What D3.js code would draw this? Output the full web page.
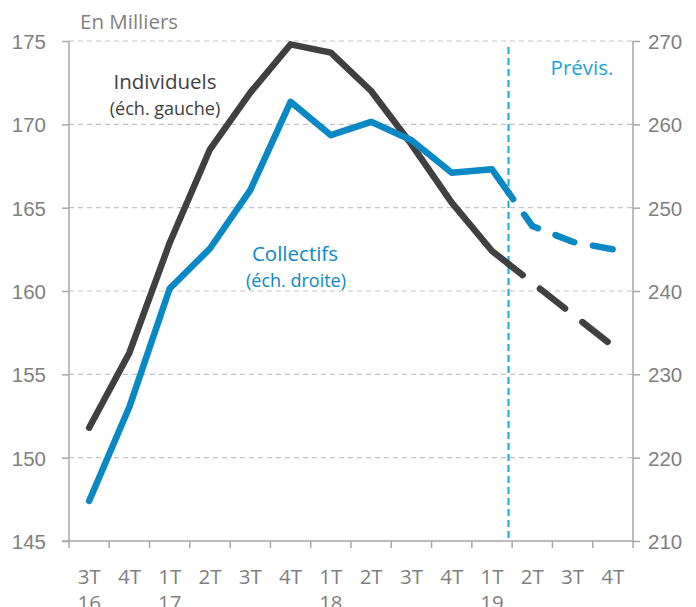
<!DOCTYPE html>
<html>
<head>
<meta charset="utf-8">
<script src="https://cdn.jsdelivr.net/npm/d3@7"></script>
<style>
  html, body { margin: 0; padding: 0; background: #fff; }
  svg { display: block; font-family: "Open Sans", "Noto Sans", sans-serif; }
</style>
</head>
<body>
<svg id="chart" width="696" height="607"></svg>
<script>
// Quarters (first line) and years (second line) of the x axis
const quarters = ["3T", "4T", "1T", "2T", "3T", "4T", "1T", "2T", "3T", "4T", "1T", "2T", "3T", "4T"];
const years    = ["16", "",   "17", "",   "",   "",   "18", "",   "",   "",   "19", "",   "",   ""];

// Housing starts, thousands
const individuels = [151.8, 156.3, 162.9, 168.5, 171.9, 174.8, 174.3, 172.0, 168.8, 165.3, 162.4, 160.5, 158.6, 156.7]; // left scale
const collectifs  = [214.8, 226.1, 240.3, 245.1, 252.1, 262.7, 258.7, 260.3, 258.1, 254.2, 254.6, 247.8, 245.9, 245.0]; // right scale

const leftTicks  = [145, 150, 155, 160, 165, 170, 175];
const rightTicks = [210, 220, 230, 240, 250, 260, 270];

// Last observed quarter and the offset (share of one step) where forecasts start
const lastActual = 10;
const forecastOffset = 0.41;

const W = 696, H = 607;
const m = { left: 69, right: 63, top: 41, bottom: 66 };
const svg = d3.select("#chart");

const idx = quarters.map((_, i) => i);
const x = d3.scaleBand().domain(idx).range([m.left, W - m.right]).padding(0);
const cx = i => x(i) + x.bandwidth() / 2;
const yL = d3.scaleLinear().domain([145, 175]).range([H - m.bottom, m.top]);
const yR = d3.scaleLinear().domain([210, 270]).range([H - m.bottom, m.top]);

const axisColor = "#a6a6a6";
const textColor = "#7f7f7f";
const darkLine = "#404040";
const blueLine = "#0a88c4";
const lightBlue = "#1aa3e2";
const fs = 20.5;

// Horizontal gridlines
svg.append("g")
  .selectAll("line")
  .data(leftTicks.slice(1))
  .join("line")
  .attr("x1", m.left).attr("x2", W - m.right)
  .attr("y1", d => yL(d)).attr("y2", d => yL(d))
  .attr("stroke", "#c4c4c4").attr("stroke-width", 1.2)
  .attr("stroke-dasharray", "5,4");

// Left axis
const gL = svg.append("g")
  .attr("transform", `translate(${m.left},0)`)
  .call(d3.axisLeft(yL).tickValues(leftTicks).tickSize(7).tickPadding(16).tickFormat(d3.format("d")));
// Right axis
const gR = svg.append("g")
  .attr("transform", `translate(${W - m.right},0)`)
  .call(d3.axisRight(yR).tickValues(rightTicks).tickSize(7).tickPadding(8).tickFormat(d3.format("d")));
// Bottom axis: ticks on the band edges
const gB = svg.append("g")
  .attr("transform", `translate(0,${H - m.bottom})`);
gB.append("line")
  .attr("x1", m.left - 7).attr("x2", W - m.right)
  .attr("stroke", axisColor).attr("stroke-width", 1.5);
gB.selectAll("line.tk")
  .data(d3.range(quarters.length + 1))
  .join("line").attr("class", "tk")
  .attr("x1", i => m.left + i * x.step()).attr("x2", i => m.left + i * x.step())
  .attr("y1", 0).attr("y2", 7)
  .attr("stroke", axisColor).attr("stroke-width", 1.5);
const xl = gB.selectAll("text")
  .data(idx)
  .join("text")
  .attr("x", cx)
  .attr("text-anchor", "middle")
  .attr("fill", textColor)
  .attr("font-size", fs);
xl.append("tspan").attr("x", cx).attr("y", 43).text(i => quarters[i]);
xl.append("tspan").attr("x", cx).attr("y", 69).text(i => years[i]);

[gL, gR].forEach(g => {
  g.select(".domain").attr("stroke", axisColor).attr("stroke-width", 1.5);
  g.selectAll(".tick line").attr("stroke", axisColor).attr("stroke-width", 1.5);
  g.selectAll(".tick text").attr("fill", textColor).attr("font-size", fs).attr("dy", "0.36em");
});
gL.select(".domain").attr("d", `M0,${m.top}V${H - m.bottom}`);
gR.select(".domain").attr("d", `M0,${m.top}V${H - m.bottom}`);

// Unit label
svg.append("text")
  .attr("x", 80).attr("y", 29)
  .attr("fill", textColor).attr("font-size", fs)
  .text("En Milliers");

// Forecast boundary
const splitX = cx(lastActual) + forecastOffset * x.step();
svg.append("line")
  .attr("x1", splitX).attr("x2", splitX)
  .attr("y1", m.top + 6).attr("y2", H - m.bottom)
  .attr("stroke", lightBlue).attr("stroke-width", 2)
  .attr("stroke-dasharray", "7,4");
svg.append("text")
  .attr("x", 582).attr("y", 75)
  .attr("text-anchor", "middle")
  .attr("fill", lightBlue).attr("font-size", fs)
  .text("Prévis.");

// Series: solid up to the boundary, dashed afterwards
function drawSeries(values, y, color, dash, offset) {
  const pts = values.map((v, i) => [cx(i), y(v)]);
  const t = forecastOffset;
  const a = pts[lastActual], b = pts[lastActual + 1];
  const mid = [a[0] + (b[0] - a[0]) * t, a[1] + (b[1] - a[1]) * t];
  const line = d3.line();
  svg.append("path")
    .attr("d", line(pts.slice(0, lastActual + 1).concat([mid])))
    .attr("fill", "none").attr("stroke", color).attr("stroke-width", 6.5)
    .attr("stroke-linejoin", "round").attr("stroke-linecap", "round");
  svg.append("path")
    .attr("d", line([mid].concat(pts.slice(lastActual + 1))))
    .attr("fill", "none").attr("stroke", color).attr("stroke-width", 6.5)
    .attr("stroke-linejoin", "round").attr("stroke-linecap", "round")
    .attr("stroke-dasharray", dash).attr("stroke-dashoffset", offset);
}
drawSeries(individuels, yL, darkLine, "32,22", 14);
drawSeries(collectifs, yR, blueLine, "20,19", 12);

// Series captions
const cap = [
  { x: 165, y: 89, text: "Individuels", size: 20.5, color: darkLine },
  { x: 165, y: 115, text: "(éch. gauche)", size: 18, color: darkLine },
  { x: 295, y: 261, text: "Collectifs", size: 20.5, color: blueLine },
  { x: 296, y: 287, text: "(éch. droite)", size: 18, color: blueLine }
];
svg.append("g").selectAll("text")
  .data(cap).join("text")
  .attr("x", d => d.x).attr("y", d => d.y)
  .attr("text-anchor", "middle")
  .attr("fill", d => d.color).attr("font-size", d => d.size)
  .text(d => d.text);
</script>
</body>
</html>
